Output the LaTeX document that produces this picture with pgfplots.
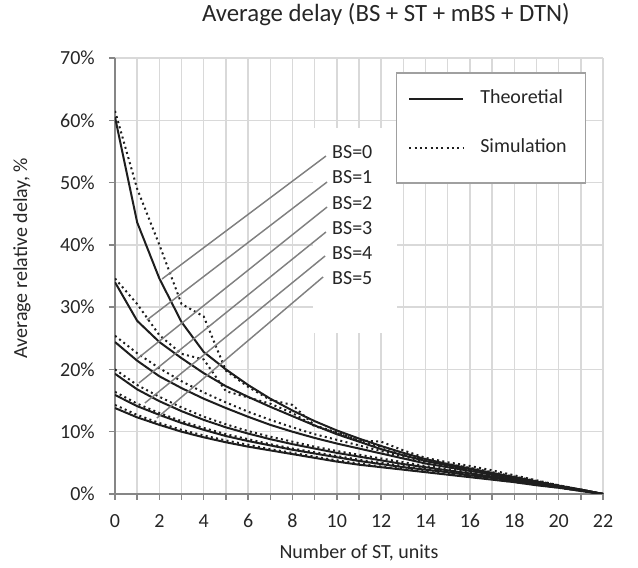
\documentclass[border=0pt]{standalone}
\usepackage{pgfplots}
\usepackage{pgfplotstable}
\pgfplotsset{compat=1.18}
\usepackage{fontspec}
\setmainfont{Carlito}
\definecolor{gridgray}{RGB}{217,217,217}
\definecolor{axisgray}{RGB}{134,134,134}
\definecolor{textgray}{RGB}{38,38,38}
\definecolor{curve}{RGB}{30,30,30}
\definecolor{leader}{RGB}{128,128,128}
\definecolor{legendgray}{RGB}{160,160,160}

% theoretical curves, BS=0..5
\pgfplotstableread{
x  b0    b1    b2    b3    b4    b5
0  60.5  34.0  24.4  19.3  15.9  13.8
1  43.6  27.8  21.4  16.8  14.1  12.3
2  34.6  24.4  18.9  14.9  12.7  11.1
3  27.6  21.8  17.0  13.3  11.4  10.0
4  22.8  19.4  15.3  11.9  10.3  9.1
5  20.0  17.3  13.8  10.7  9.3   8.3
6  17.5  15.6  12.4  9.7   8.5   7.6
7  15.3  14.0  11.1  8.8   7.8   7.0
8  13.4  12.5  10.0  8.0   7.1   6.4
9  11.7  11.0  9.0   7.3   6.5   5.8
10 10.2  9.6   8.1   6.6   5.9   5.2
11 8.9   8.4   7.3   6.0   5.3   4.7
12 7.7   7.2   6.5   5.4   4.8   4.3
13 6.6   6.2   5.7   4.8   4.3   3.9
14 5.6   5.3   4.9   4.3   3.9   3.5
15 4.8   4.6   4.3   3.8   3.5   3.1
16 4.1   4.0   3.7   3.3   3.0   2.7
17 3.4   3.3   3.1   2.8   2.6   2.3
18 2.7   2.7   2.5   2.3   2.1   1.9
19 2.0   2.0   1.9   1.7   1.6   1.4
20 1.3   1.3   1.3   1.2   1.1   1.0
21 0.7   0.7   0.6   0.6   0.5   0.5
22 0     0     0     0     0     0
}\theo

% simulation curves, BS=0..5
\pgfplotstableread{
x  b0    b1    b2    b3    b4    b5
0  61.5  34.6  25.4  20.0  16.4  14.3
1  49.0  30.5  22.6  17.5  14.5  12.7
2  40.0  25.5  20.2  15.6  13.0  11.4
3  30.5  22.5  18.1  13.9  11.7  10.3
4  28.5  21.6  16.3  12.4  10.6  9.4
5  19.8  16.5  14.7  11.2  9.6   8.6
6  17.2  15.5  13.2  10.1  8.8   7.9
7  15.1  14.5  11.9  9.2   8.0   7.2
8  14.3  13.0  10.7  8.4   7.3   6.6
9  11.0  10.9  9.6   7.6   6.7   6.0
10 9.9   9.8   8.7   6.9   6.1   5.4
11 8.6   8.5   7.8   6.3   5.5   4.9
12 8.4   7.6   6.9   5.7   5.0   4.4
13 7.0   6.5   6.0   5.1   4.5   4.0
14 5.8   5.5   5.2   4.5   4.0   3.6
15 5.1   4.8   4.5   4.0   3.6   3.2
16 4.5   4.2   3.9   3.5   3.1   2.8
17 3.8   3.5   3.3   2.9   2.7   2.4
18 3.0   2.8   2.6   2.4   2.2   1.9
19 2.2   2.1   2.0   1.8   1.7   1.5
20 1.4   1.4   1.3   1.2   1.1   1.0
21 0.7   0.7   0.7   0.6   0.6   0.5
22 0     0     0     0     0     0
}\simu

\newcommand{\chartfont}{\fontsize{15}{18}\selectfont}

\begin{document}
\begin{tikzpicture}
\begin{axis}[
    scale only axis,
    width=366pt,
    height=327pt,
    xmin=0, xmax=22,
    ymin=0, ymax=70,
    axis x line*=bottom,
    axis y line*=left,
    axis line style={axisgray, line width=1.1pt, -},
    xtick={0,2,...,22},
    minor xtick={1,3,...,21},
    ytick={0,10,...,70},
    yticklabel={\pgfmathprintnumber{\tick}\%},
    tick align=outside,
    major tick length=4.5pt,
    minor tick length=4.5pt,
    tick style={axisgray, line width=1.1pt},
    grid=both,
    major grid style={gridgray, line width=1.1pt},
    minor grid style={gridgray, line width=1.1pt},
    /pgf/number format/assume math mode=true,
    tick label style={font=\chartfont, text=textgray},
    xticklabel style={anchor=base, inner sep=0pt, yshift=-20.8pt},
    yticklabel style={anchor=east, inner sep=0pt, xshift=-10.5pt},
    title={Average delay (BS + ST + mBS + DTN)},
    title style={at={(axis description cs:0.555,1.0823)}, anchor=center, font=\fontsize{18.6}{21}\selectfont, text=textgray},
    xlabel={Number of ST, units},
    xlabel style={at={(axis description cs:0.5,-0.135)}, anchor=center, font=\chartfont, text=textgray},
    ylabel={Average relative delay, \%},
    ylabel style={at={(axis description cs:-0.1906,0.541)}, anchor=center, font=\chartfont, text=textgray},
    theo/.style={curve, line width=1.5pt, solid},
    simu/.style={curve, line width=1.5pt, dash pattern=on 1.5pt off 2.5pt},
    legend image code/.code={\draw[#1] (0pt,0pt) -- (40.5pt,0pt);},
    legend style={draw=none, fill=none, at={(axis cs:13.21,64.86)}, anchor=north west,
        inner sep=0pt, row sep=24.25pt, column sep=12pt,
        nodes={inner sep=0pt, text height=10pt, text depth=2.5pt, anchor=west, font=\chartfont, text=textgray}},
    legend cell align=left,
]
\coordinate (ll) at (rel axis cs:0,0);
\coordinate (ur) at (rel axis cs:1,1);

% white areas behind the labels and the legend
\fill[white] (axis cs:8.93,58.76) rectangle (axis cs:12.71,25.85);
\draw[legendgray, line width=0.8pt, fill=white] (axis cs:12.71,67.59) rectangle (axis cs:21.19,49.93);

\addlegendimage{theo}
\addlegendentry{Theoretial}
\addlegendimage{simu}
\addlegendentry{Simulation}

\foreach \c in {b0,b1,b2,b3,b4,b5} {
    \addplot[theo, forget plot] table[x=x, y=\c] {\theo};
    \addplot[simu, forget plot] table[x=x, y=\c] {\simu};
}

% leader lines and labels
\draw[leader, line width=1.1pt] (axis cs:2.12,34.52) -- (axis cs:9.51,54.26);
\draw[leader, line width=1.1pt] (axis cs:1.44,27.93) -- (axis cs:9.56,50.09);
\draw[leader, line width=1.1pt] (axis cs:0.99,21.67) -- (axis cs:9.56,46.07);
\draw[leader, line width=1.1pt] (axis cs:1.08,17.82) -- (axis cs:9.51,42.06);
\draw[leader, line width=1.1pt] (axis cs:1.35,14.61) -- (axis cs:9.47,38.21);
\draw[leader, line width=1.1pt] (axis cs:1.89,12.20) -- (axis cs:9.38,34.84);
\begin{scope}[every node/.style={anchor=west, inner sep=0pt, font=\chartfont, text=textgray}]
\node at (axis cs:9.78,54.90) {BS=0};
\node at (axis cs:9.78,50.89) {BS=1};
\node at (axis cs:9.78,46.72) {BS=2};
\node at (axis cs:9.78,42.70) {BS=3};
\node at (axis cs:9.78,38.69) {BS=4};
\node at (axis cs:9.78,34.68) {BS=5};
\end{scope}
\end{axis}
\pgfresetboundingbox
\path ([shift={(-86.25pt,-55.5pt)}]ll) rectangle ([shift={(26.25pt,43.5pt)}]ur);
\end{tikzpicture}
\end{document}
